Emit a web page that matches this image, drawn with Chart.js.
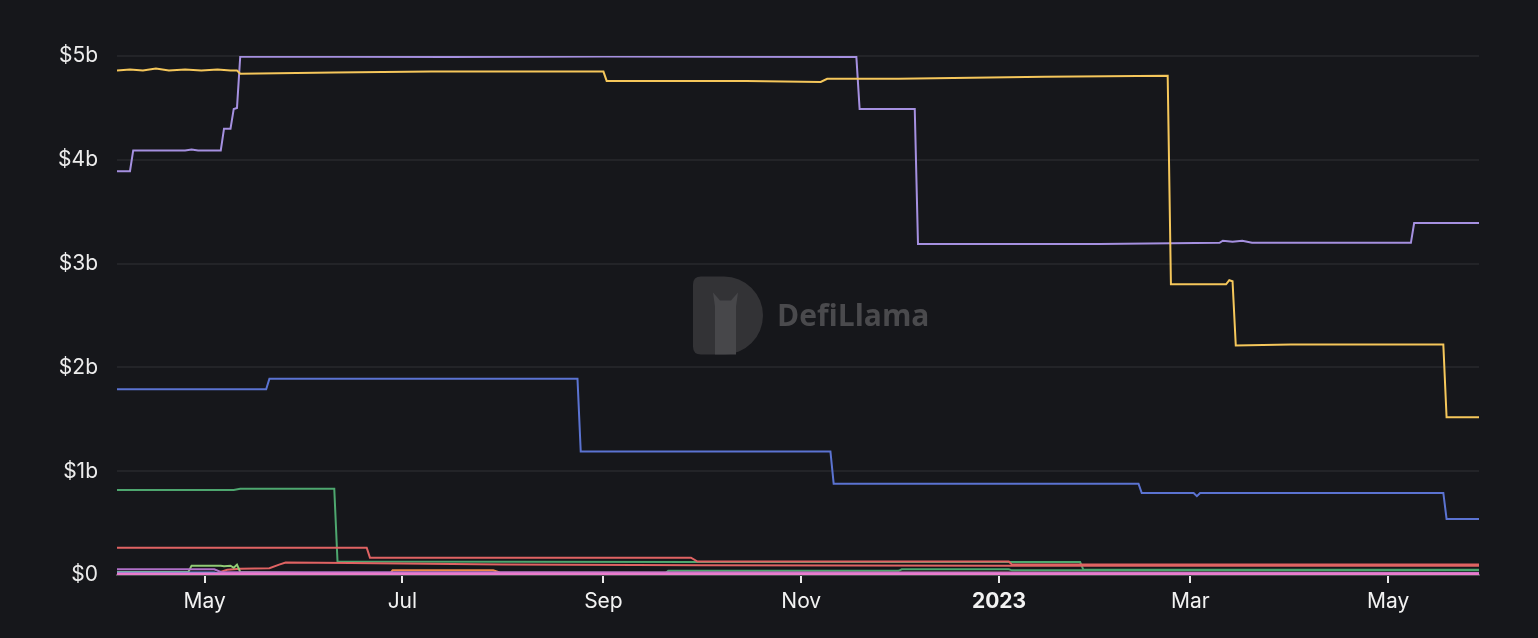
<!DOCTYPE html>
<html lang="en">
<head>
  <meta charset="UTF-8">
  <title>TVL by chain</title>
  <script src="https://cdn.jsdelivr.net/npm/chart.js"></script>
  <style>
    html, body { margin: 0; padding: 0; background: #16171b; }
    #wrap { width: 1538px; height: 638px; }
  </style>
</head>
<body>
  <div id="wrap"><canvas id="tvlChart" width="1538" height="638"></canvas></div>

  <script>
    // values in billions of USD, vertices of each series
    const purpleDates = ['2022-04-04', '2022-04-08', '2022-04-09', '2022-04-25', '2022-04-27', '2022-04-29', '2022-05-06', '2022-05-07', '2022-05-09', '2022-05-10', '2022-05-11', '2022-05-12', '2022-07-15', '2022-09-01', '2022-11-18', '2022-11-19', '2022-12-06', '2022-12-07', '2023-02-01', '2023-03-10', '2023-03-11', '2023-03-14', '2023-03-17', '2023-03-20', '2023-05-08', '2023-05-09', '2023-05-29'];
    const purpleValues = [3.89, 3.89, 4.09, 4.09, 4.10, 4.09, 4.09, 4.30, 4.30, 4.49, 4.50, 4.995, 4.99, 4.995, 4.99, 4.49, 4.49, 3.19, 3.19, 3.20, 3.22, 3.21, 3.22, 3.20, 3.20, 3.39, 3.39];

    const yellowDates = ['2022-04-04', '2022-04-08', '2022-04-12', '2022-04-16', '2022-04-20', '2022-04-25', '2022-04-30', '2022-05-05', '2022-05-09', '2022-05-11', '2022-05-12', '2022-06-10', '2022-07-10', '2022-08-10', '2022-09-01', '2022-09-02', '2022-10-15', '2022-11-07', '2022-11-09', '2022-12-01', '2023-01-15', '2023-02-22', '2023-02-23', '2023-03-12', '2023-03-13', '2023-03-14', '2023-03-15', '2023-04-01', '2023-05-18', '2023-05-19', '2023-05-29'];
    const yellowValues = [4.86, 4.87, 4.86, 4.88, 4.86, 4.87, 4.86, 4.87, 4.86, 4.86, 4.83, 4.84, 4.85, 4.85, 4.85, 4.76, 4.76, 4.75, 4.78, 4.78, 4.80, 4.81, 2.80, 2.80, 2.84, 2.83, 2.21, 2.22, 2.22, 1.52, 1.52];

    const blueDates = ['2022-04-04', '2022-05-20', '2022-05-21', '2022-08-24', '2022-08-25', '2022-11-10', '2022-11-11', '2023-02-13', '2023-02-14', '2023-03-02', '2023-03-03', '2023-03-04', '2023-05-18', '2023-05-19', '2023-05-29'];
    const blueValues = [1.79, 1.79, 1.89, 1.89, 1.19, 1.19, 0.88, 0.88, 0.79, 0.79, 0.76, 0.79, 0.79, 0.54, 0.54];

    const greenDates = ['2022-04-04', '2022-05-10', '2022-05-12', '2022-06-10', '2022-06-11', '2022-09-30', '2023-01-26', '2023-01-27', '2023-05-29'];
    const greenValues = [0.82, 0.82, 0.83, 0.83, 0.13, 0.125, 0.125, 0.05, 0.05];

    const redDates = ['2022-04-04', '2022-06-20', '2022-06-21', '2022-09-28', '2022-09-30', '2023-01-04', '2023-01-05', '2023-05-29'];
    const redValues = [0.263, 0.263, 0.167, 0.167, 0.13, 0.13, 0.10, 0.10];

    const salmonDates = ['2022-04-04', '2022-05-04', '2022-05-08', '2022-05-12', '2022-05-21', '2022-05-24', '2022-05-26', '2022-06-15', '2022-08-01', '2022-10-01', '2023-01-04', '2023-03-15', '2023-05-29'];
    const salmonValues = [0.01, 0.01, 0.05, 0.06, 0.065, 0.10, 0.12, 0.115, 0.10, 0.095, 0.09, 0.09, 0.09];

    const limeDates = ['2022-04-04', '2022-04-26', '2022-04-27', '2022-05-06', '2022-05-07', '2022-05-09', '2022-05-10', '2022-05-11', '2022-05-12', '2022-06-01', '2023-05-29'];
    const limeValues = [0.03, 0.03, 0.09, 0.09, 0.085, 0.09, 0.07, 0.10, 0.03, 0.02, 0.02];

    const tealDates = ['2022-04-04', '2022-09-20', '2022-09-21', '2022-12-01', '2022-12-02', '2023-01-04', '2023-01-05', '2023-05-29'];
    const tealValues = [0.015, 0.015, 0.04, 0.04, 0.055, 0.055, 0.045, 0.045];

    const orangeDates = ['2022-04-04', '2022-06-27', '2022-06-28', '2022-07-29', '2022-07-31', '2023-05-29'];
    const orangeValues = [0.005, 0.005, 0.045, 0.045, 0.025, 0.02];

    const violetDates = ['2022-04-04', '2022-05-04', '2022-05-06', '2023-05-29'];
    const violetValues = [0.055, 0.055, 0.03, 0.02];

    const skyDates = ['2022-04-04', '2022-05-04', '2022-05-06', '2023-05-29'];
    const skyValues = [0.025, 0.025, 0.01, 0.01];

    const pinkDates = ['2022-04-04', '2023-05-29'];
    const pinkValues = [0.01, 0.01];

    const tickDates = ['2022-05-01', '2022-07-01', '2022-09-01', '2022-11-01', '2023-01-01', '2023-03-01', '2023-05-01'];
    const tickLabels = ['May', 'Jul', 'Sep', 'Nov', '2023', 'Mar', 'May'];
    const yTicks = [0, 1, 2, 3, 4, 5];

    function points(dates, values) {
      return dates.map((d, i) => ({ x: Date.parse(d), y: values[i] }));
    }

    function line(data, color, width) {
      return {
        data,
        borderColor: color,
        borderWidth: width || 2,
        pointRadius: 0,
        tension: 0,
        fill: false
      };
    }

    const watermark = {
      id: 'watermark',
      beforeDatasetsDraw(chart) {
        const { ctx, chartArea } = chart;
        const cx = (chartArea.left + chartArea.right) / 2;
        const cy = (chartArea.top + chartArea.bottom) / 2;
        const l = cx - 105, t = cy - 39;
        ctx.save();
        // logo shape
        ctx.fillStyle = '#333336';
        ctx.beginPath();
        ctx.moveTo(l + 8, t);
        ctx.lineTo(l + 31, t);
        ctx.arc(l + 31, t + 39, 39, -Math.PI / 2, Math.PI / 2);
        ctx.lineTo(l + 8, t + 78);
        ctx.quadraticCurveTo(l, t + 78, l, t + 70);
        ctx.lineTo(l, t + 8);
        ctx.quadraticCurveTo(l, t, l + 8, t);
        ctx.fill();
        ctx.fillStyle = '#47474a';
        ctx.beginPath();
        ctx.moveTo(l + 22, t + 78);
        ctx.lineTo(l + 22, t + 30);
        ctx.lineTo(l + 20, t + 16);
        ctx.lineTo(l + 27, t + 24);
        ctx.lineTo(l + 38, t + 24);
        ctx.lineTo(l + 45, t + 16);
        ctx.lineTo(l + 43, t + 30);
        ctx.lineTo(l + 43, t + 78);
        ctx.closePath();
        ctx.fill();
        // name
        ctx.fillStyle = '#4a4a4d';
        ctx.font = 'bold 30px "Open Sans"';
        ctx.textBaseline = 'middle';
        ctx.textAlign = 'left';
        ctx.fillText('DefiLlama', l + 84, cy + 2);
        ctx.restore();
      }
    };

    new Chart(document.getElementById('tvlChart'), {
      type: 'line',
      data: {
        datasets: [
          line(points(pinkDates, pinkValues), '#ea7ccc', 3),
          line(points(skyDates, skyValues), '#5b8fd6'),
          line(points(violetDates, violetValues), '#b070c8'),
          line(points(orangeDates, orangeValues), '#f08a4b'),
          line(points(tealDates, tealValues), '#4ea76f'),
          line(points(limeDates, limeValues), '#91cc75'),
          line(points(salmonDates, salmonValues), '#e06363'),
          line(points(redDates, redValues), '#e06363'),
          line(points(greenDates, greenValues), '#4ea76f'),
          line(points(blueDates, blueValues), '#5b73d1'),
          line(points(yellowDates, yellowValues), '#f5c75b'),
          line(points(purpleDates, purpleValues), '#a590e0')
        ]
      },
      options: {
        responsive: false,
        animation: false,
        layout: { padding: { top: 56, right: 59, left: 0, bottom: 0 } },
        plugins: {
          legend: { display: false },
          tooltip: { enabled: false }
        },
        scales: {
          x: {
            type: 'linear',
            min: Date.parse('2022-04-04'),
            max: Date.parse('2023-05-29'),
            afterBuildTicks(scale) {
              scale.ticks = tickDates.map(d => ({ value: Date.parse(d) }));
            },
            afterFit(scale) { scale.height = 63; },
            grid: { drawOnChartArea: false, drawTicks: true, tickLength: 8, color: '#e8e8e8', lineWidth: 2 },
            border: { color: '#4d4e52', width: 2 },
            ticks: {
              autoSkip: false,
              maxRotation: 0,
              padding: 6,
              color: '#f2f2f2',
              font: ctx => ({
                family: 'Inter',
                size: 21,
                weight: ctx.tick && ctx.tick.label === '2023' ? 'bold' : 'normal'
              }),
              callback: (value, index) => tickLabels[index]
            }
          },
          y: {
            min: 0,
            max: 5,
            afterBuildTicks(scale) {
              scale.ticks = yTicks.map(v => ({ value: v }));
            },
            afterFit(scale) { scale.width = 117; },
            grid: { color: '#232428', lineWidth: 2, drawTicks: false },
            border: { display: false },
            ticks: {
              padding: 19,
              color: '#ececec',
              font: { family: 'Inter', size: 21 },
              callback: v => v === 0 ? '$0' : '$' + v + 'b'
            }
          }
        }
      },
      plugins: [watermark]
    });
  </script>
</body>
</html>
